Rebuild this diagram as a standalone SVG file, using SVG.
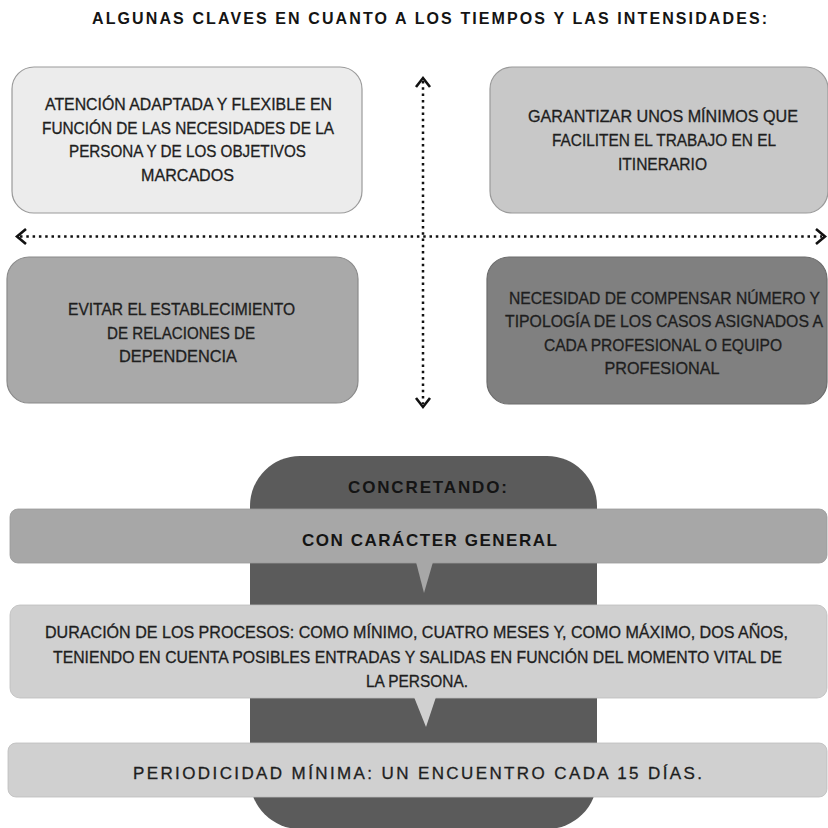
<svg xmlns="http://www.w3.org/2000/svg" width="828" height="828" viewBox="0 0 828 828">
<defs>
<style>
.t{font-family:"Liberation Sans",Arial,sans-serif;font-size:16px;fill:#1e1e1e;stroke:#1e1e1e;stroke-width:0.3;text-anchor:middle}
.h{font-family:"Liberation Sans",Arial,sans-serif;font-weight:bold;fill:#141414;text-anchor:middle}
.sp{font-family:"Liberation Sans",Arial,sans-serif;font-size:17px;fill:#1e1e1e;stroke:#1e1e1e;stroke-width:0.3;text-anchor:middle}
.dot{fill:none;stroke:#111;stroke-width:2.5;stroke-dasharray:2.5 3.8}
.head{fill:none;stroke:#111;stroke-width:2.6;stroke-linejoin:miter;stroke-linecap:butt}
</style>
</defs>
<rect width="828" height="828" fill="#ffffff"/>
<text id="title" class="h" x="429.5" y="23.5" font-size="16" textLength="675" lengthAdjust="spacing">ALGUNAS CLAVES EN CUANTO A LOS TIEMPOS Y LAS INTENSIDADES:</text>

<g id="node-tl">
<rect x="12" y="67" width="350" height="146" rx="22" fill="#ececec" stroke="#9a9a9a" stroke-width="1.2"/>
<text class="t" x="188.5" y="110" textLength="287" lengthAdjust="spacingAndGlyphs">ATENCIÓN ADAPTADA Y FLEXIBLE EN</text>
<text class="t" x="188" y="133.5" textLength="292" lengthAdjust="spacingAndGlyphs">FUNCIÓN DE LAS NECESIDADES DE LA</text>
<text class="t" x="187.5" y="157" textLength="237" lengthAdjust="spacingAndGlyphs">PERSONA Y DE LOS OBJETIVOS</text>
<text class="t" x="187.5" y="180.5" textLength="93" lengthAdjust="spacingAndGlyphs">MARCADOS</text>
</g>

<g id="node-tr">
<rect x="490" y="67" width="338" height="146" rx="22" fill="#c8c8c8" stroke="#9a9a9a" stroke-width="1.2"/>
<text class="t" x="663" y="122" textLength="270" lengthAdjust="spacingAndGlyphs">GARANTIZAR UNOS MÍNIMOS QUE</text>
<text class="t" x="664" y="146" textLength="224" lengthAdjust="spacingAndGlyphs">FACILITEN EL TRABAJO EN EL</text>
<text class="t" x="662.5" y="170" textLength="89" lengthAdjust="spacingAndGlyphs">ITINERARIO</text>
</g>

<g id="node-bl">
<rect x="7" y="257" width="351" height="146" rx="22" fill="#a9a9a9" stroke="#8a8a8a" stroke-width="1.2"/>
<text class="t" x="181.5" y="315" textLength="227" lengthAdjust="spacingAndGlyphs">EVITAR EL ESTABLECIMIENTO</text>
<text class="t" x="181" y="339" textLength="148" lengthAdjust="spacingAndGlyphs">DE RELACIONES DE</text>
<text class="t" x="178" y="362" textLength="118" lengthAdjust="spacingAndGlyphs">DEPENDENCIA</text>
</g>

<g id="node-br">
<rect x="487" y="257" width="340" height="147" rx="22" fill="#808080" stroke="#6c6c6c" stroke-width="1.2"/>
<text class="t" x="664.5" y="304" textLength="311" lengthAdjust="spacingAndGlyphs">NECESIDAD DE COMPENSAR NÚMERO Y</text>
<text class="t" x="664" y="327" textLength="318" lengthAdjust="spacingAndGlyphs">TIPOLOGÍA DE LOS CASOS ASIGNADOS A</text>
<text class="t" x="663" y="351" textLength="238" lengthAdjust="spacingAndGlyphs">CADA PROFESIONAL O EQUIPO</text>
<text class="t" x="662" y="374" textLength="115" lengthAdjust="spacingAndGlyphs">PROFESIONAL</text>
</g>

<g id="connectors">
<line class="dot" x1="20" y1="236.5" x2="822" y2="236.5"/>
<line class="dot" x1="423" y1="81" x2="423" y2="404"/>
<polyline class="head" points="26,229 17,236.5 26,244"/>
<polyline class="head" points="816,229 825,236.5 816,244"/>
<polyline class="head" points="416,87 423,78 430,87"/>
<polyline class="head" points="416,398 423,407 430,398"/>
</g>

<g id="node-concretando">
<rect x="250" y="456" width="347" height="373" rx="50" fill="#5b5b5b"/>
<text class="h" x="427.5" y="493" font-size="17" textLength="159" lengthAdjust="spacing">CONCRETANDO:</text>
</g>

<g id="node-general">
<rect x="10" y="509" width="817" height="54" rx="8" fill="#a7a7a7" stroke="#999" stroke-width="0.8"/>
<polygon points="416,562 433,562 424,593" fill="#a7a7a7"/>
<text class="h" x="429.5" y="546" font-size="17" textLength="255" lengthAdjust="spacing">CON CARÁCTER GENERAL</text>
</g>

<g id="node-duracion">
<rect x="10" y="605" width="817" height="93" rx="10" fill="#d0d0d0" stroke="#bdbdbd" stroke-width="0.8"/>
<polygon points="414,697 436,697 426,727" fill="#d0d0d0"/>
<text class="t" x="416.5" y="638" textLength="743" lengthAdjust="spacingAndGlyphs">DURACIÓN DE LOS PROCESOS: COMO MÍNIMO, CUATRO MESES Y, COMO MÁXIMO, DOS AÑOS,</text>
<text class="t" x="417.5" y="662.5" textLength="729" lengthAdjust="spacingAndGlyphs">TENIENDO EN CUENTA POSIBLES ENTRADAS Y SALIDAS EN FUNCIÓN DEL MOMENTO VITAL DE</text>
<text class="t" x="417" y="687" textLength="102" lengthAdjust="spacingAndGlyphs">LA PERSONA.</text>
</g>

<g id="node-periodicidad">
<rect x="8" y="743" width="819" height="54" rx="8" fill="#d0d0d0" stroke="#bdbdbd" stroke-width="0.8"/>
<text class="sp" x="417.5" y="779" textLength="569" lengthAdjust="spacing">PERIODICIDAD MÍNIMA: UN ENCUENTRO CADA 15 DÍAS.</text>
</g>
</svg>
